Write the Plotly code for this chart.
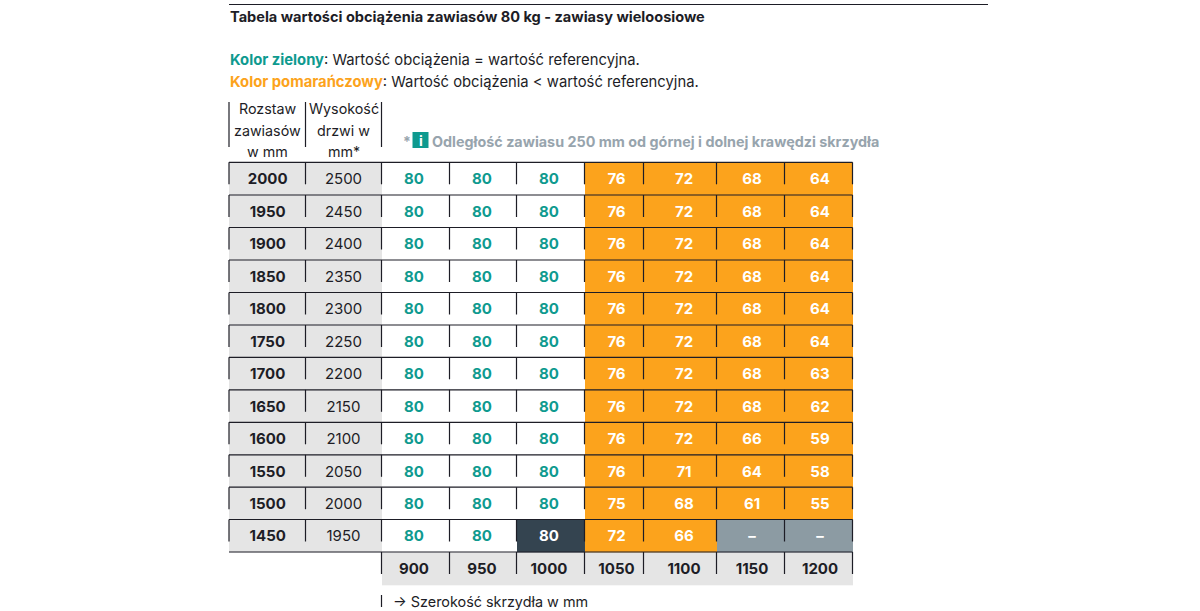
import plotly.graph_objects as go

spacing = ["2000","1950","1900","1850","1800","1750","1700","1650","1600","1550","1500","1450"]
heights = ["2500","2450","2400","2350","2300","2250","2200","2150","2100","2050","2000","1950"]
widths = ["900","950","1000","1050","1100","1150","1200"]
v_900 = [80]*12
v_950 = [80]*12
v_1000 = [80]*12
v_1050 = [76,76,76,76,76,76,76,76,76,76,75,72]
v_1100 = [72,72,72,72,72,72,72,72,72,71,68,66]
v_1150 = [68,68,68,68,68,68,68,68,66,64,61,None]
v_1200 = [64,64,64,64,64,64,63,62,59,58,55,None]
columns = [v_900, v_950, v_1000, v_1050, v_1100, v_1150, v_1200]
reference = 80
flagged = (11, 2)  # row 1450, width 1000

FONT = "Inter"
INK = "#1d1d26"
GREEN = "#0e9a8f"
ORANGE = "#fca31c"
SLATE = "#344450"
STEEL = "#8c9ba3"
LIGHT = "#e5e5e5"
NOTE = "#97a4ad"

x_edges = [229, 305.5, 381.5, 449.5, 516.5, 584.5, 643.5, 716.5, 784.5, 852.5]
y_edges = [162.3, 195, 227.5, 260, 292.5, 325, 357.3, 389.8, 422.3, 454.8, 487.2, 519.5, 552, 585]
x_text = [267.7, 343.5, 414, 482, 549, 616.5, 684, 752, 820]
y_text = [(t + 18) for t in y_edges[:-1]]

# categories: 0 white, 1 light, 2 orange, 3 slate, 4 steel
z = []
for r in range(12):
    row = [1, 1]
    for c, col in enumerate(columns):
        val = col[r]
        if (r, c) == flagged:
            row.append(3)
        elif val is None:
            row.append(4)
        elif val == reference:
            row.append(0)
        else:
            row.append(2)
    z.append(row)
z.append([None, None] + [1]*7)

palette = ["#ffffff", LIGHT, ORANGE, SLATE, STEEL]
scale = []
for i, col in enumerate(palette):
    scale += [[i/5, col], [(i+1)/5, col]]

fig = go.Figure()
fig.add_trace(go.Heatmap(x=x_edges, y=y_edges, z=z, zmin=0, zmax=5, colorscale=scale,
                         showscale=False, hoverinfo="skip"))

# grid lines
lx, ly = [], []
for r in range(12):
    lx += [x_edges[0], x_edges[-1], None]
    ly += [y_edges[r], y_edges[r], None]
    for e in x_edges:
        lx += [e, e, None]
        ly += [y_edges[r], y_edges[r] + 22, None]
lx += [x_edges[0], x_edges[-1], None]
ly += [y_edges[12], y_edges[12], None]
for e in x_edges[2:]:
    lx += [e, e, None]
    ly += [y_edges[12], y_edges[12] + 22, None]
for e in x_edges[:3]:
    lx += [e, e, None]
    ly += [102, 147, None]
lx += [x_edges[2], x_edges[2], None, 229, 988]
ly += [595, 607, None, 4.5, 4.5]
fig.add_trace(go.Scatter(x=lx, y=ly, mode="lines", line=dict(color=INK, width=1.2),
                         hoverinfo="skip", showlegend=False))

def text_trace(xs, ys, labels, color, family=FONT, size=15, bold=True):
    fig.add_trace(go.Scatter(x=xs, y=ys, mode="text", text=[f"<b>{t}</b>" if bold else t for t in labels],
                             textposition="middle center",
                             textfont=dict(color=color, family=family, size=size),
                             hoverinfo="skip", showlegend=False))

text_trace([x_text[0]]*12, y_text[:12], spacing, INK)
text_trace([x_text[1]]*12, y_text[:12], heights, INK, bold=False)
text_trace(x_text[2:], [y_text[12]]*7, widths, INK)

for want, color in [("ref", GREEN), ("low", "#ffffff"), ("dash", "#ffffff"), ("flag", "#ffffff")]:
    xs, ys, ts = [], [], []
    for c, col in enumerate(columns):
        for r, val in enumerate(col):
            kind = "flag" if (r, c) == flagged else "dash" if val is None else "ref" if val == reference else "low"
            if kind == want:
                xs.append(x_text[c + 2]); ys.append(y_text[r])
                ts.append("–" if val is None else str(val))
    text_trace(xs, ys, ts, color)

def note(x, y, text, color=INK, size=14, anchor="left", **kw):
    fig.add_annotation(x=x, y=y, xref="x", yref="y", text=text, showarrow=False, xanchor=anchor,
                       yanchor="middle", align="center" if anchor == "center" else "left",
                       font=dict(family=FONT, size=size, color=color), **kw)

note(227.5, 17, "<b>Tabela wartości obciążenia zawiasów 80 kg - zawiasy wieloosiowe</b>", size=14.55)
note(227.5, 59.5, f'<b><span style="color:{GREEN}">Kolor zielony</span></b>: Wartość obciążenia = wartość referencyjna.', size=14.8)
note(227.5, 81.5, f'<b><span style="color:{ORANGE}">Kolor pomarańczowy</span></b>: Wartość obciążenia &lt; wartość referencyjna.', size=14.8)

for cx, lines in [(267.7, ["Rozstaw", "zawiasów", "w mm"]), (343.5, ["Wysokość", "drzwi w", "mm*"])]:
    for yy, t in zip([108.5, 130, 151.5], lines):
        note(cx, yy, t, anchor="center", size=14.3)

note(400.5, 141, "<b>*</b>", color=NOTE, size=14)
fig.add_shape(type="rect", x0=412.5, x1=428.5, y0=132, y1=148, fillcolor=GREEN, line_width=0)
note(420.5, 140.5, "<b>i</b>", color="#ffffff", size=14, anchor="center")
note(430, 141, "<b>Odległość zawiasu 250 mm od górnej i dolnej krawędzi skrzydła</b>", color=NOTE, size=14.35)
note(390.5, 601, "→ Szerokość skrzydła w mm", size=14.4)

fig.update_layout(
    width=1200, height=611, margin=dict(l=0, r=0, t=0, b=0),
    paper_bgcolor="#ffffff", plot_bgcolor="#ffffff", showlegend=False,
    xaxis=dict(range=[0, 1200], visible=False, fixedrange=True),
    yaxis=dict(range=[611, 0], visible=False, fixedrange=True),
)
fig.write_html("out.html", post_script="document.body.style.margin='0';", config={"displayModeBar": False})
